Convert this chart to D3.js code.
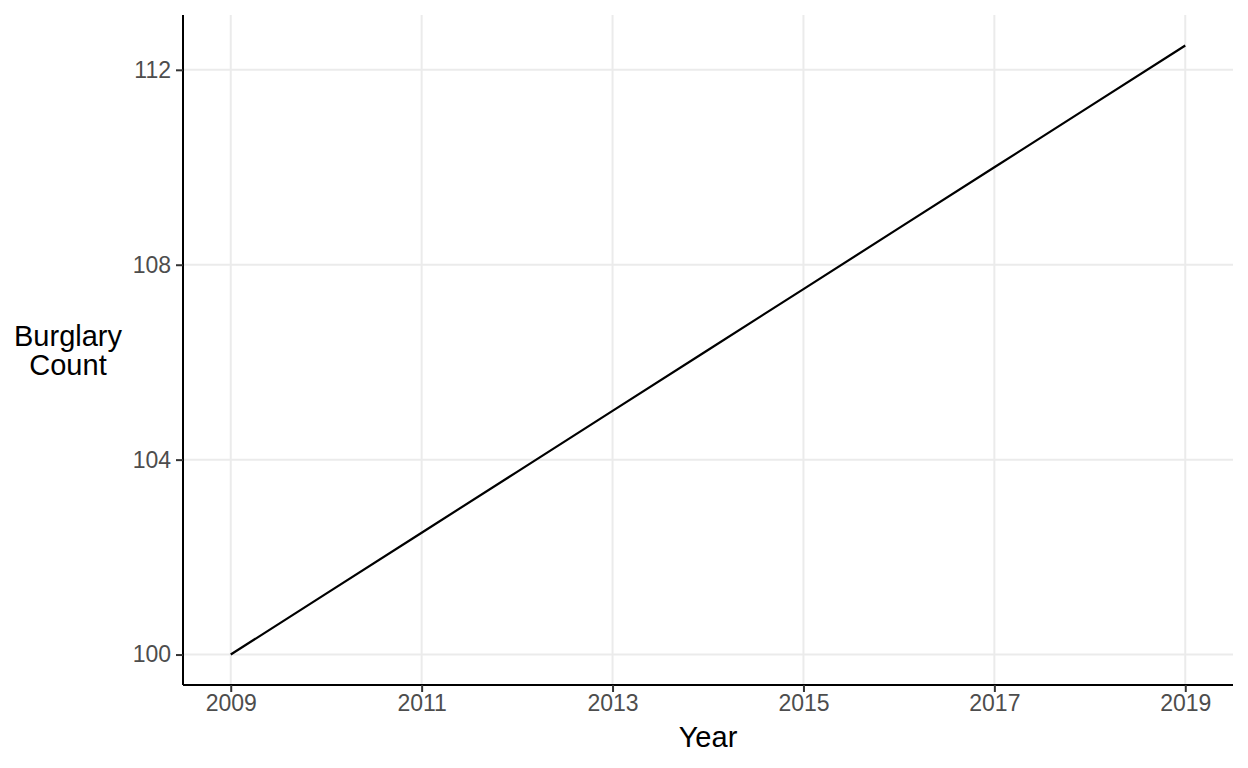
<!DOCTYPE html>
<html>
<head>
<meta charset="utf-8">
<script src="https://cdn.jsdelivr.net/npm/d3@7"></script>
<style>
  body { margin: 0; background: #fff; }
  text { font-family: "Liberation Sans", Arial, sans-serif; }
</style>
</head>
<body>
<div id="chart"></div>
<script>
const years = [2009, 2010, 2011, 2012, 2013, 2014, 2015, 2016, 2017, 2018, 2019]
const burglaries = [100, 101.25, 102.5, 103.75, 105, 106.25, 107.5, 108.75, 110, 111.25, 112.5]
const xTicks = [2009, 2011, 2013, 2015, 2017, 2019]
const yTicks = [100, 104, 108, 112]

const w = 1248, h = 768
const margin = { top: 15, right: 15, bottom: 83, left: 183 }
const innerW = w - margin.left - margin.right
const innerH = h - margin.top - margin.bottom

const data = years.map((y, i) => ({ year: y, count: burglaries[i] }))

// ggplot style expansion: 0.5 yr on x, 5% on y
const x = d3.scaleLinear().domain([2008.5, 2019.5]).range([0, innerW])
const yMin = d3.min(burglaries), yMax = d3.max(burglaries)
const pad = (yMax - yMin) * 0.05
const y = d3.scaleLinear().domain([yMin - pad, yMax + pad]).range([innerH, 0])

const svg = d3.select('#chart').append('svg')
  .attr('width', w).attr('height', h)
const g = svg.append('g')
  .attr('transform', 'translate(' + margin.left + ',' + margin.top + ')')

// grid
g.append('g').selectAll('line').data(xTicks).enter().append('line')
  .attr('x1', d => x(d)).attr('x2', d => x(d))
  .attr('y1', 0).attr('y2', innerH)
  .attr('stroke', '#ebebeb').attr('stroke-width', 2)
g.append('g').selectAll('line').data(yTicks).enter().append('line')
  .attr('x1', 0).attr('x2', innerW)
  .attr('y1', d => y(d)).attr('y2', d => y(d))
  .attr('stroke', '#ebebeb').attr('stroke-width', 2)

// line
const line = d3.line().x(d => x(d.year)).y(d => y(d.count))
g.append('path').datum(data)
  .attr('d', line)
  .attr('fill', 'none')
  .attr('stroke', '#000')
  .attr('stroke-width', 2.2)

// axes
const xAxis = g.append('g')
  .attr('transform', 'translate(0,' + innerH + ')')
  .call(d3.axisBottom(x).tickValues(xTicks).tickFormat(d3.format('d')).tickSize(7).tickPadding(3))
const yAxis = g.append('g')
  .call(d3.axisLeft(y).tickValues(yTicks).tickSize(7).tickPadding(5))

;[xAxis, yAxis].forEach(a => {
  a.select('.domain').attr('stroke', '#000').attr('stroke-width', 2)
  a.selectAll('.tick line').attr('stroke', '#333').attr('stroke-width', 2)
  a.selectAll('.tick text').attr('fill', '#4d4d4d').style('font-size', '23px')
})
// extend the domain paths without outer ticks
xAxis.select('.domain').attr('d', 'M0,0H' + innerW)
yAxis.select('.domain').attr('d', 'M0,0V' + innerH)

// titles
svg.append('text')
  .attr('x', margin.left + innerW / 2)
  .attr('y', 747)
  .attr('text-anchor', 'middle')
  .style('font-size', '29px')
  .attr('fill', '#000')
  .text('Year')

const yt = svg.append('text')
  .attr('text-anchor', 'middle')
  .style('font-size', '29px')
  .attr('fill', '#000')
yt.append('tspan').attr('x', 68).attr('y', 346).text('Burglary')
yt.append('tspan').attr('x', 68).attr('y', 375).text('Count')
</script>
</body>
</html>
